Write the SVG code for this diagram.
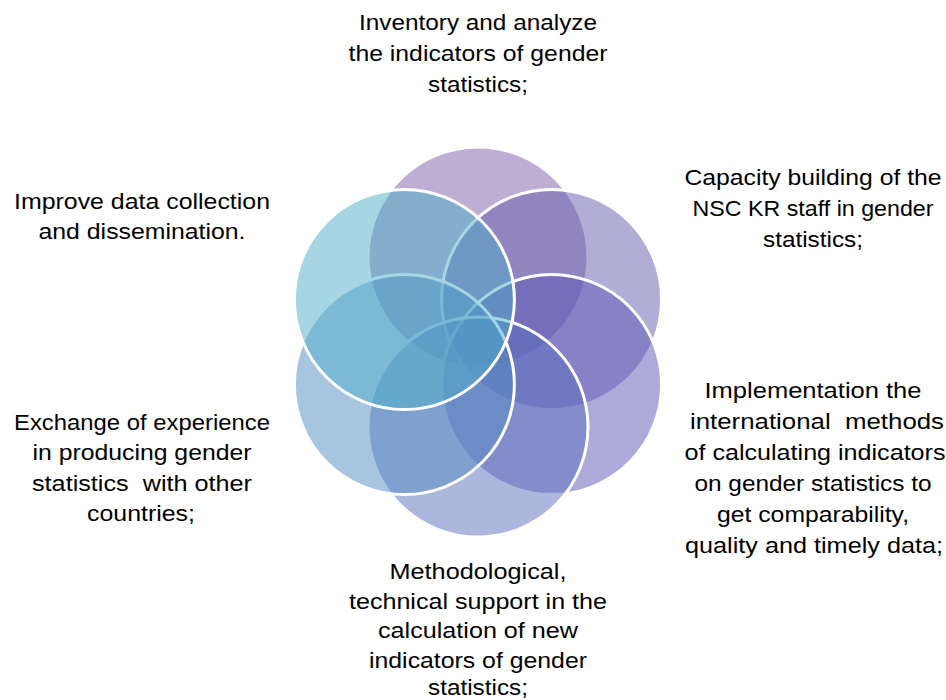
<svg xmlns="http://www.w3.org/2000/svg" width="946" height="700" viewBox="0 0 946 700">
<style>
.c{stroke:#fff;stroke-width:3;fill-opacity:0.5}
.t{font-family:"Liberation Sans",Arial,sans-serif;font-size:22px;fill:#000;text-anchor:middle}
</style>
<rect width="946" height="700" fill="#fff"/>
<g id="circle-top"><circle class="c" cx="478" cy="257" r="110" fill="#795FA7"/></g>
<g id="circle-upper-right"><circle class="c" cx="551.6" cy="299.5" r="110" fill="#655BAD"/></g>
<g id="circle-lower-right"><circle class="c" cx="551.6" cy="384.5" r="110" fill="#5B55B5"/></g>
<g id="circle-bottom"><circle class="c" cx="478" cy="427" r="110" fill="#5B6FBD"/></g>
<g id="circle-lower-left"><circle class="c" cx="404.4" cy="384.5" r="110" fill="#518BC1"/></g>
<g id="circle-upper-left"><circle class="c" cx="404.4" cy="299.5" r="110" fill="#4DADC7"/></g>
<g id="connectors"></g>
<g id="label-top">
<text class="t" x="478" y="30" textLength="238" lengthAdjust="spacingAndGlyphs">Inventory and analyze</text>
<text class="t" x="478" y="61" textLength="259" lengthAdjust="spacingAndGlyphs">the indicators of gender</text>
<text class="t" x="478" y="92" textLength="100" lengthAdjust="spacingAndGlyphs">statistics;</text>
</g>
<g id="label-upper-right">
<text class="t" x="813" y="185" textLength="257" lengthAdjust="spacingAndGlyphs">Capacity building of the</text>
<text class="t" x="813" y="216" textLength="241" lengthAdjust="spacingAndGlyphs">NSC KR staff in gender</text>
<text class="t" x="813" y="247" textLength="100" lengthAdjust="spacingAndGlyphs">statistics;</text>
</g>
<g id="label-lower-right">
<text class="t" x="813" y="398" textLength="217" lengthAdjust="spacingAndGlyphs">Implementation the</text>
<text class="t" x="817" y="429" textLength="254" lengthAdjust="spacingAndGlyphs" xml:space="preserve">international  methods</text>
<text class="t" x="815" y="460" textLength="261" lengthAdjust="spacingAndGlyphs">of calculating indicators</text>
<text class="t" x="813" y="491" textLength="237" lengthAdjust="spacingAndGlyphs">on gender statistics to</text>
<text class="t" x="813" y="522" textLength="192" lengthAdjust="spacingAndGlyphs">get comparability,</text>
<text class="t" x="814" y="553" textLength="258" lengthAdjust="spacingAndGlyphs">quality and timely data;</text>
</g>
<g id="label-bottom">
<text class="t" x="478" y="579" textLength="177" lengthAdjust="spacingAndGlyphs">Methodological,</text>
<text class="t" x="478" y="608.5" textLength="258" lengthAdjust="spacingAndGlyphs">technical support in the</text>
<text class="t" x="478" y="638" textLength="200" lengthAdjust="spacingAndGlyphs">calculation of new</text>
<text class="t" x="478" y="667.5" textLength="218" lengthAdjust="spacingAndGlyphs">indicators of gender</text>
<text class="t" x="478" y="695" textLength="100" lengthAdjust="spacingAndGlyphs">statistics;</text>
</g>
<g id="label-lower-left">
<text class="t" x="142" y="430" textLength="256" lengthAdjust="spacingAndGlyphs">Exchange of experience</text>
<text class="t" x="142" y="460" textLength="219" lengthAdjust="spacingAndGlyphs">in producing gender</text>
<text class="t" x="142" y="491" textLength="220" lengthAdjust="spacingAndGlyphs" xml:space="preserve">statistics  with other</text>
<text class="t" x="141" y="521" textLength="108" lengthAdjust="spacingAndGlyphs">countries;</text>
</g>
<g id="label-upper-left">
<text class="t" x="142" y="209" textLength="256" lengthAdjust="spacingAndGlyphs">Improve data collection</text>
<text class="t" x="142" y="239" textLength="207" lengthAdjust="spacingAndGlyphs">and dissemination.</text>
</g>
</svg>
